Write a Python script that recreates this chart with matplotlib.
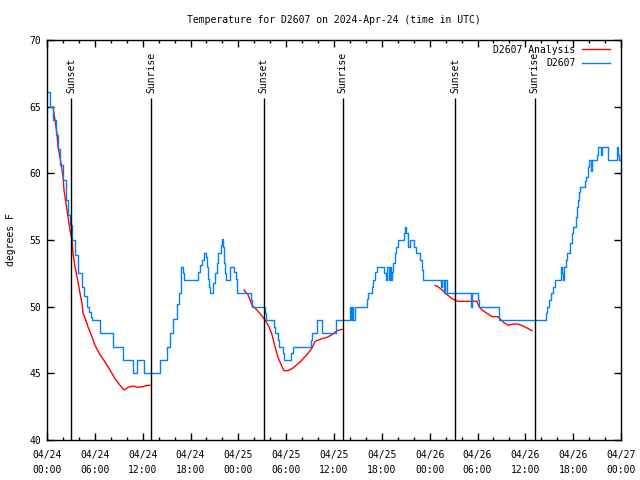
import matplotlib
matplotlib.use("Agg")
import matplotlib.pyplot as plt
import matplotlib.dates as mdates
import numpy as np
import pandas as pd

# hours since 2024-04-24 00:00 UTC
start = pd.Timestamp("2024-04-24 00:00")

# observed temperature (D2607), change points of the step trace
obs_hours = [0.00, 0.38, 0.75, 1.13, 1.38, 1.63, 2.01, 2.38, 2.63, 2.88,
             3.14, 3.51, 3.89, 4.39, 4.64, 5.02, 5.27, 5.52, 5.64, 6.65,
             8.28, 9.53, 10.79, 11.29, 12.17, 14.18, 15.05, 15.43, 15.81, 16.31,
             16.56, 16.81, 17.06, 17.19, 18.94, 19.19, 19.44, 19.69, 19.95, 20.07,
             20.20, 20.32, 20.45, 20.82, 21.07, 21.32, 21.45, 21.83, 21.95, 22.08,
             22.20, 22.33, 22.45, 22.96, 23.46, 23.71, 23.83, 25.59, 25.72, 27.35,
             27.47, 28.48, 28.60, 28.98, 29.10, 29.60, 29.73, 30.61, 30.86, 33.12,
             33.24, 33.87, 34.50, 36.25, 38.01, 38.13, 38.26, 38.38, 38.64, 40.14,
             40.27, 40.77, 40.89, 41.14, 41.40, 42.27, 42.53, 42.65, 42.90, 43.03,
             43.15, 43.28, 43.40, 43.65, 43.78, 44.03, 44.78, 44.91, 45.03, 45.28,
             45.53, 46.04, 46.29, 46.79, 47.04, 47.17, 49.42, 49.55, 49.80, 49.92,
             50.18, 53.19, 53.31, 54.07, 54.19, 56.70, 62.60, 62.72, 62.97, 63.22,
             63.47, 63.72, 64.48, 64.60, 64.73, 64.85, 65.10, 65.23, 65.60, 65.85,
             65.98, 66.36, 66.48, 66.61, 66.73, 66.86, 67.49, 67.61, 67.86, 67.99,
             68.24, 68.36, 68.99, 69.11, 69.49, 69.62, 70.37, 71.50, 71.62, 71.75,
             72.00]
obs_temp = [66.1, 65.0, 64.0, 62.9, 61.8, 60.6, 59.5, 58.0, 56.9, 56.1,
            55.0, 53.9, 52.5, 51.5, 50.8, 50.0, 49.6, 49.2, 49.0, 48.0,
            47.0, 46.0, 45.0, 46.0, 45.0, 46.0, 47.0, 48.0, 49.1, 50.2,
            51.0, 53.0, 52.5, 52.0, 52.6, 53.1, 53.5, 54.0, 53.7, 53.0,
            52.1, 51.5, 51.0, 51.8, 52.5, 53.3, 54.0, 54.6, 55.1, 54.5,
            53.3, 52.5, 52.0, 53.0, 52.6, 52.1, 51.0, 50.5, 50.0, 49.5,
            49.0, 48.5, 48.0, 47.5, 47.0, 46.5, 46.0, 46.5, 47.0, 47.5,
            48.0, 49.0, 48.0, 49.0, 50.0, 49.0, 50.0, 49.0, 50.0, 50.6,
            51.0, 51.5, 52.0, 52.6, 53.0, 52.5, 52.0, 53.0, 52.0, 53.0,
            52.0, 52.6, 53.25, 54.0, 54.5, 55.0, 55.5, 56.0, 55.5, 54.5,
            55.0, 54.5, 54.0, 53.5, 52.75, 52.0, 51.5, 52.0, 51.0, 52.0,
            51.0, 50.0, 51.0, 50.5, 50.0, 49.0, 49.5, 50.0, 50.5, 51.0,
            51.5, 52.0, 53.0, 52.5, 52.0, 53.0, 53.5, 54.0, 54.75, 55.5,
            56.0, 56.75, 57.5, 58.0, 58.6, 59.0, 59.4, 59.75, 60.5, 61.0,
            60.2, 61.0, 61.4, 62.0, 61.4, 62.0, 61.0, 62.0, 61.4, 61.0,
            61.0]

# analysis (three overnight segments, NaN = gap)
ana_hours = [0.75, 1.00, 1.25, 1.38, 1.76, 2.01, 2.13, 2.38, 2.63, 2.88,
             3.14, 3.26, 3.51, 3.76, 4.14, 4.39, 4.52, 4.77, 5.14, 5.64,
             6.02, 6.65, 7.28, 7.90, 8.53, 9.16, 9.66, 10.16, 10.79, 11.42,
             12.04, 12.54, 12.92, 18.0,
             24.71, 25.21, 25.72, 26.34, 26.97, 27.35, 27.85, 28.22, 28.60, 28.98,
             29.48, 29.73, 30.23, 30.86, 31.74, 32.61, 33.24, 33.62, 34.25, 35.12,
             35.75, 36.38, 37.00, 42.0,
             48.67, 49.05, 49.55, 50.18, 50.80, 51.56, 53.94, 54.19, 54.57, 55.19,
             55.82, 56.57, 57.20, 57.83, 58.45, 59.08, 59.71, 60.21, 60.84]
ana_temp = [65.0, 64.0, 63.0, 62.0, 60.75, 59.75, 58.75, 57.75, 56.75, 55.75,
            55.0, 54.0, 53.0, 52.25, 51.0, 50.25, 49.5, 49.15, 48.5, 47.75,
            47.1, 46.4, 45.85, 45.25, 44.6, 44.1, 43.75, 43.95, 44.05, 43.95,
            44.0, 44.1, 44.1, np.nan,
            51.25, 50.9, 50.1, 49.75, 49.3, 49.0, 48.5, 47.9, 47.0, 46.2,
            45.5, 45.2, 45.2, 45.4, 45.85, 46.4, 46.9, 47.4, 47.55, 47.7,
            47.9, 48.2, 48.3, np.nan,
            51.6, 51.5, 51.25, 50.9, 50.6, 50.4, 50.4, 50.0, 49.75, 49.5,
            49.25, 49.25, 48.85, 48.6, 48.7, 48.7, 48.55, 48.4, 48.2]

sun_hours = [3.05, 13.05, 27.16, 37.07, 51.18, 61.15]
sun_labels = ["Sunset", "Sunrise", "Sunset", "Sunrise", "Sunset", "Sunrise"]

obs_t = start + pd.to_timedelta(obs_hours, unit="h")
ana_t = start + pd.to_timedelta(ana_hours, unit="h")
sun_t = start + pd.to_timedelta(sun_hours, unit="h")

plt.rcParams["font.family"] = "DejaVu Sans Mono"
plt.rcParams["font.size"] = 7

fig = plt.figure(figsize=(6.4, 4.8), dpi=100)
ax = fig.add_axes([47 / 640, 40 / 480, 574 / 640, 400 / 480])

ax.plot(ana_t, ana_temp, color="#ff0000", lw=1, label="D2607 Analysis")
ax.step(obs_t, obs_temp, where="post", color="#0080ff", lw=1, label="D2607")

# sunrise / sunset markers
ax.vlines(sun_t, 40, 65.65, color="black", lw=1)
for t, lab in zip(sun_t, sun_labels):
    ax.text(t, 66.05, lab, rotation=90, ha="center", va="bottom", fontsize=7)

ax.set_xlim(start, start + pd.Timedelta(hours=72))
ax.set_ylim(40, 70)
ax.set_yticks(range(40, 71, 5))

ax.xaxis.set_major_locator(mdates.HourLocator(byhour=[0, 6, 12, 18]))
ax.xaxis.set_minor_locator(mdates.HourLocator(interval=2))
ax.xaxis.set_major_formatter(mdates.DateFormatter("%m/%d\n%H:%M"))

ax.tick_params(which="both", direction="in", top=True, right=True, width=1)
ax.tick_params(which="major", length=5, pad=7)
ax.tick_params(which="minor", length=2.5)
ax.tick_params(axis="y", pad=4)
for s in ax.spines.values():
    s.set_linewidth(1)

ax.set_title("Temperature for D2607 on 2024-Apr-24 (time in UTC)", fontsize=7, pad=12)
ax.set_ylabel("degrees F", labelpad=10)

leg = ax.legend(loc="upper right", bbox_to_anchor=(0.9878, 0.9975),
                frameon=False, markerfirst=False, borderaxespad=0,
                handlelength=2.9, labelspacing=0.32,
                handletextpad=0.65, fontsize=7)

fig.canvas.draw()
for lbl in ax.get_xticklabels():
    lbl.set_linespacing(1.7)

fig.savefig("out.png", dpi=100)
